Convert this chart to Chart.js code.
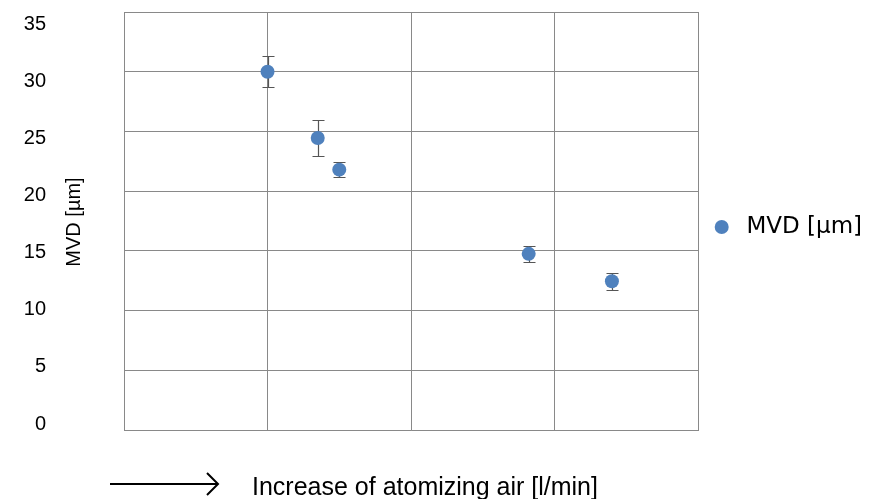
<!DOCTYPE html>
<html>
<head>
<meta charset="utf-8">
<script src="https://cdn.jsdelivr.net/npm/chart.js@4"></script>
<style>
  html, body { margin: 0; padding: 0; background: #ffffff; }
  #wrap { width: 872px; height: 499px; position: relative; }
</style>
</head>
<body>
<div id="wrap"><canvas id="c" width="872" height="499"></canvas></div>
<script>
// ---- data ----
const seriesName = 'MVD [µm]';
const xValues = [1.0, 1.35, 1.5, 2.82, 3.4];
const mvdValues = [30.0, 24.45, 21.8, 14.75, 12.45];
const mvdErrors = [1.3, 1.5, 0.6, 0.65, 0.7];
const yTickValues = [0, 5, 10, 15, 20, 25, 30, 35];
const yAxisTitle = 'MVD [µm]';
const xAxisTitle = 'Increase of atomizing air [l/min]';

const FONT = '"Liberation Sans", Arial, Helvetica, sans-serif';
const LEGEND_FONT = '"DejaVu Sans", sans-serif';
const GRID = '#898989';
const BLUE = '#4f81bd';

// legend marker: circle with a transparent margin
const marker = document.createElement('canvas');
marker.width = 27; marker.height = 16;
(function () {
  const m = marker.getContext('2d');
  m.fillStyle = BLUE;
  m.beginPath();
  m.arc(13.7, 8, 7, 0, Math.PI * 2);
  m.fill();
})();

const errorBars = {
  id: 'errorBars',
  beforeDatasetsDraw(chart) {
    const ctx = chart.ctx;
    const xs = chart.scales.x, ys = chart.scales.y;
    ctx.save();
    ctx.strokeStyle = '#555555';
    ctx.lineWidth = 1.2;
    xValues.forEach((xv, i) => {
      const px = Math.round(xs.getPixelForValue(xv)) + 0.5;
      const top = Math.round(ys.getPixelForValue(mvdValues[i] + mvdErrors[i])) + 0.5;
      const bot = Math.round(ys.getPixelForValue(mvdValues[i] - mvdErrors[i])) + 0.5;
      ctx.beginPath();
      ctx.moveTo(px, top); ctx.lineTo(px, bot);
      ctx.moveTo(px - 6, top); ctx.lineTo(px + 6, top);
      ctx.moveTo(px - 6, bot); ctx.lineTo(px + 6, bot);
      ctx.stroke();
    });
    ctx.restore();
  }
};

const titles = {
  id: 'titles',
  afterDraw(chart) {
    const ctx = chart.ctx;
    const area = chart.chartArea;
    ctx.save();
    ctx.fillStyle = '#000';
    ctx.font = '20px ' + FONT;
    ctx.translate(74, (area.top + area.bottom) / 2 + 1);
    ctx.rotate(-Math.PI / 2);
    ctx.textAlign = 'center';
    ctx.textBaseline = 'middle';
    ctx.fillText(yAxisTitle, 0, 0);
    ctx.restore();

    ctx.save();
    ctx.strokeStyle = '#000';
    ctx.lineWidth = 2;
    ctx.beginPath();
    ctx.moveTo(110, 484); ctx.lineTo(217, 484);
    ctx.stroke();
    ctx.beginPath();
    ctx.moveTo(207, 473); ctx.lineTo(218, 484); ctx.lineTo(207, 495);
    ctx.stroke();
    ctx.fillStyle = '#000';
    ctx.font = '25px ' + FONT;
    ctx.textAlign = 'left';
    ctx.textBaseline = 'alphabetic';
    ctx.fillText(xAxisTitle, 252, 495);
    ctx.restore();
  }
};

new Chart(document.getElementById('c'), {
  type: 'scatter',
  data: {
    datasets: [{
      label: seriesName,
      data: xValues.map((x, i) => ({ x: x, y: mvdValues[i] })),
      backgroundColor: BLUE,
      borderColor: BLUE,
      pointRadius: 7,
      pointHoverRadius: 7,
      pointBorderWidth: 0,
      yAxisID: 'y'
    }]
  },
  options: {
    responsive: false,
    animation: false,
    devicePixelRatio: 1,
    layout: { padding: { top: 12, left: 0, right: 0, bottom: 0 } },
    plugins: {
      tooltip: { enabled: false },
      legend: {
        display: true,
        position: 'right',
        align: 'center',
        fullSize: false,
        maxWidth: 174,
        title: { display: true, text: ' ', font: { size: 10 }, padding: 0 },
        labels: {
          usePointStyle: true,
          pointStyle: marker,
          boxHeight: 16,
          boxWidth: 27,
          pointStyleWidth: 27,
          padding: 10,
          color: '#000',
          font: { family: LEGEND_FONT, size: 23 }
        }
      }
    },
    scales: {
      x: {
        type: 'linear',
        min: 0, max: 4,
        ticks: { display: false, stepSize: 1 },
        grid: { color: GRID, lineWidth: 1, drawTicks: false },
        border: { color: GRID },
        afterFit(axis) { axis.height = 69; axis.paddingLeft = 0; axis.paddingRight = 0; }
      },
      y: {
        type: 'linear',
        position: 'left',
        min: 0, max: 35,
        ticks: { display: false, stepSize: 5 },
        grid: { color: GRID, lineWidth: 1, drawTicks: false },
        border: { color: GRID },
        afterFit(axis) { axis.width = 0; axis.paddingTop = 0; axis.paddingBottom = 0; }
      },
      yl: {
        type: 'linear',
        position: 'left',
        min: -0.525, max: 36.05,
        grid: { display: false, drawTicks: false },
        border: { display: false },
        afterBuildTicks(axis) { axis.ticks = yTickValues.map(v => ({ value: v })); },
        ticks: {
          padding: 78,
          color: '#000',
          font: { family: FONT, size: 20 }
        },
        afterFit(axis) { axis.width = 124; axis.paddingTop = 0; axis.paddingBottom = 0; }
      }
    }
  },
  plugins: [errorBars, titles]
});
</script>
</body>
</html>
